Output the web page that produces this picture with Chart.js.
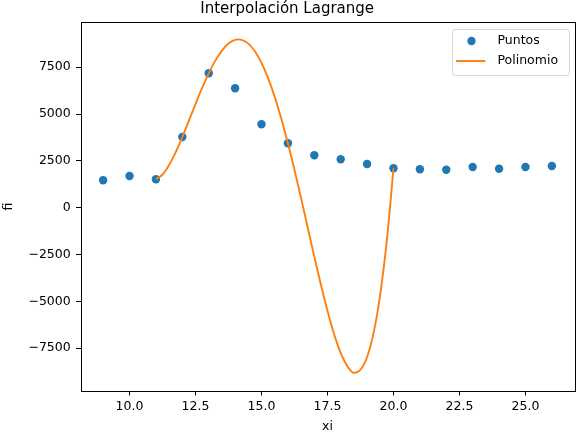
<!DOCTYPE html>
<html>
<head>
<meta charset="utf-8">
<script src="https://cdn.jsdelivr.net/npm/chart.js@4"></script>
<style>
  html, body { margin: 0; padding: 0; background: #fff; }
  #wrap { width: 584px; height: 434px; position: relative; }
</style>
</head>
<body>
<div id="wrap"><canvas id="chart"></canvas></div>
<script>
// data points
const xi = [9, 10, 11, 12, 13, 14, 15, 16, 17, 18, 19, 20, 21, 22, 23, 24, 25, 26];
const fi = [1463, 1692, 1516, 3774, 7175, 6374, 4452, 3438, 2797, 2584, 2333, 2103, 2050, 2029, 2173, 2082, 2173, 2226];

// polynomial curve, sampled along the plotted line
const polyX = [11, 11.25, 11.5, 11.75, 12, 12.25, 12.5, 12.75, 13, 13.25, 13.5, 13.75, 14, 14.125, 14.25, 14.5, 14.75,
               15, 15.25, 15.5, 15.75, 16, 16.25, 16.5, 16.75, 17, 17.25, 17.5, 17.75, 18, 18.25, 18.5, 18.75,
               19, 19.25, 19.5, 19.75, 20];
const polyY = [1516, 1772, 2277, 2965, 3774, 4648, 5536, 6392, 7175, 7851, 8390, 8766, 8962, 8987, 8962, 8759, 8348,
               7732, 6918, 5918, 4750, 3438, 2010, 498, -1057, -2611, -4116, -5516, -6750, -7754, -8457, -8820, -8650,
               -7972, -6657, -4608, -1722, 2103];

const xTicks = [10, 12.5, 15, 17.5, 20, 22.5, 25];
const yTicks = [-7500, -5000, -2500, 0, 2500, 5000, 7500];
const seriesNames = ['Puntos', 'Polinomio'];
const colors = ['#1f77b4', '#ff7f0e'];

const FONT = 'DejaVu Sans';

// matplotlib-like full frame around the axes
const framePlugin = {
    id: 'frame',
    afterDatasetsDraw(chart) {
        const { ctx, chartArea: a } = chart;
        ctx.save();
        ctx.strokeStyle = '#000';
        ctx.lineWidth = 1;
        ctx.strokeRect(Math.round(a.left) + 0.5, Math.round(a.top) + 0.5,
                       Math.round(a.right - a.left), Math.round(a.bottom - a.top));
        ctx.restore();
    }
};

// legend box in the upper right corner
const legendPlugin = {
    id: 'mplLegend',
    afterDraw(chart) {
        const { ctx } = chart;
        const bx = 452.5, by = 29.5, bw = 117, bh = 46, r = 3;
        ctx.save();
        ctx.beginPath();
        ctx.moveTo(bx + r, by);
        ctx.arcTo(bx + bw, by, bx + bw, by + bh, r);
        ctx.arcTo(bx + bw, by + bh, bx, by + bh, r);
        ctx.arcTo(bx, by + bh, bx, by, r);
        ctx.arcTo(bx, by, bx + bw, by, r);
        ctx.closePath();
        ctx.fillStyle = 'rgba(255,255,255,0.8)';
        ctx.fill();
        ctx.strokeStyle = '#d6d6d6';
        ctx.lineWidth = 1;
        ctx.stroke();

        // Puntos
        ctx.fillStyle = colors[0];
        ctx.beginPath();
        ctx.arc(471.5, 41, 4.2, 0, Math.PI * 2);
        ctx.fill();
        // Polinomio
        ctx.strokeStyle = colors[1];
        ctx.lineWidth = 1.9;
        ctx.beginPath();
        ctx.moveTo(456, 61);
        ctx.lineTo(485.5, 61);
        ctx.stroke();

        ctx.fillStyle = '#000';
        ctx.font = '12.5px "' + FONT + '"';
        ctx.textBaseline = 'middle';
        ctx.textAlign = 'left';
        ctx.fillText(seriesNames[0], 497.5, 41);
        ctx.fillText(seriesNames[1], 497.5, 61);
        ctx.restore();
    }
};

const fmtY = v => (v < 0 ? '\u2212' + Math.abs(v) : String(v));

new Chart(document.getElementById('chart').getContext('2d'), {
    type: 'scatter',
    data: {
        datasets: [
            {
                label: seriesNames[0],
                data: xi.map((x, i) => ({ x: x, y: fi[i] })),
                backgroundColor: colors[0],
                borderColor: colors[0],
                pointRadius: 4.2,
                pointBorderWidth: 0,
                showLine: false,
                order: 1
            },
            {
                label: seriesNames[1],
                data: polyX.map((x, i) => ({ x: x, y: polyY[i] })),
                borderColor: colors[1],
                backgroundColor: colors[1],
                borderWidth: 1.9,
                pointRadius: 0,
                showLine: true,
                cubicInterpolationMode: 'monotone',
                order: 0
            }
        ]
    },
    options: {
        responsive: true,
        maintainAspectRatio: false,
        animation: false,
        devicePixelRatio: 1,
        layout: { padding: { left: 0, right: 9.7, top: 0, bottom: 0 } },
        plugins: {
            legend: { display: false },
            tooltip: { enabled: false },
            title: {
                display: true,
                text: 'Interpolación Lagrange',
                color: '#000',
                font: { family: FONT, size: 15, weight: 'normal', lineHeight: 1 },
                padding: { top: 1.2, bottom: 6.1 }
            }
        },
        scales: {
            x: {
                type: 'linear',
                min: 8.15,
                max: 26.85,
                border: { display: false },
                grid: { display: true, drawOnChartArea: false, drawTicks: true, tickLength: 4.5, tickColor: '#000', tickWidth: 1 },
                afterBuildTicks: scale => { scale.ticks = xTicks.map(v => ({ value: v })); },
                afterFit: scale => { scale.height = 43; },
                ticks: {
                    autoSkip: false,
                    maxRotation: 0,
                    padding: 4,
                    color: '#000',
                    font: { family: FONT, size: 12.5 },
                    callback: v => v.toFixed(1)
                },
                title: {
                    display: true,
                    text: 'xi',
                    color: '#000',
                    font: { family: FONT, size: 12.5, lineHeight: 1.2 },
                    padding: { top: 0, bottom: 0 }
                }
            },
            y: {
                type: 'linear',
                min: -9785,
                max: 9898,
                border: { display: false },
                grid: { display: true, drawOnChartArea: false, drawTicks: true, tickLength: 4.7, tickColor: '#000', tickWidth: 1 },
                afterBuildTicks: scale => { scale.ticks = yTicks.map(v => ({ value: v })); },
                afterFit: scale => { scale.width = 80.7; },
                ticks: {
                    autoSkip: false,
                    padding: 5.3,
                    color: '#000',
                    font: { family: FONT, size: 12.5 },
                    callback: v => fmtY(v)
                },
                title: {
                    display: true,
                    text: 'fi',
                    color: '#000',
                    font: { family: FONT, size: 12.5, lineHeight: 1.2 },
                    padding: { top: 1.5, bottom: 0 }
                }
            }
        }
    },
    plugins: [framePlugin, legendPlugin]
});
</script>
</body>
</html>
